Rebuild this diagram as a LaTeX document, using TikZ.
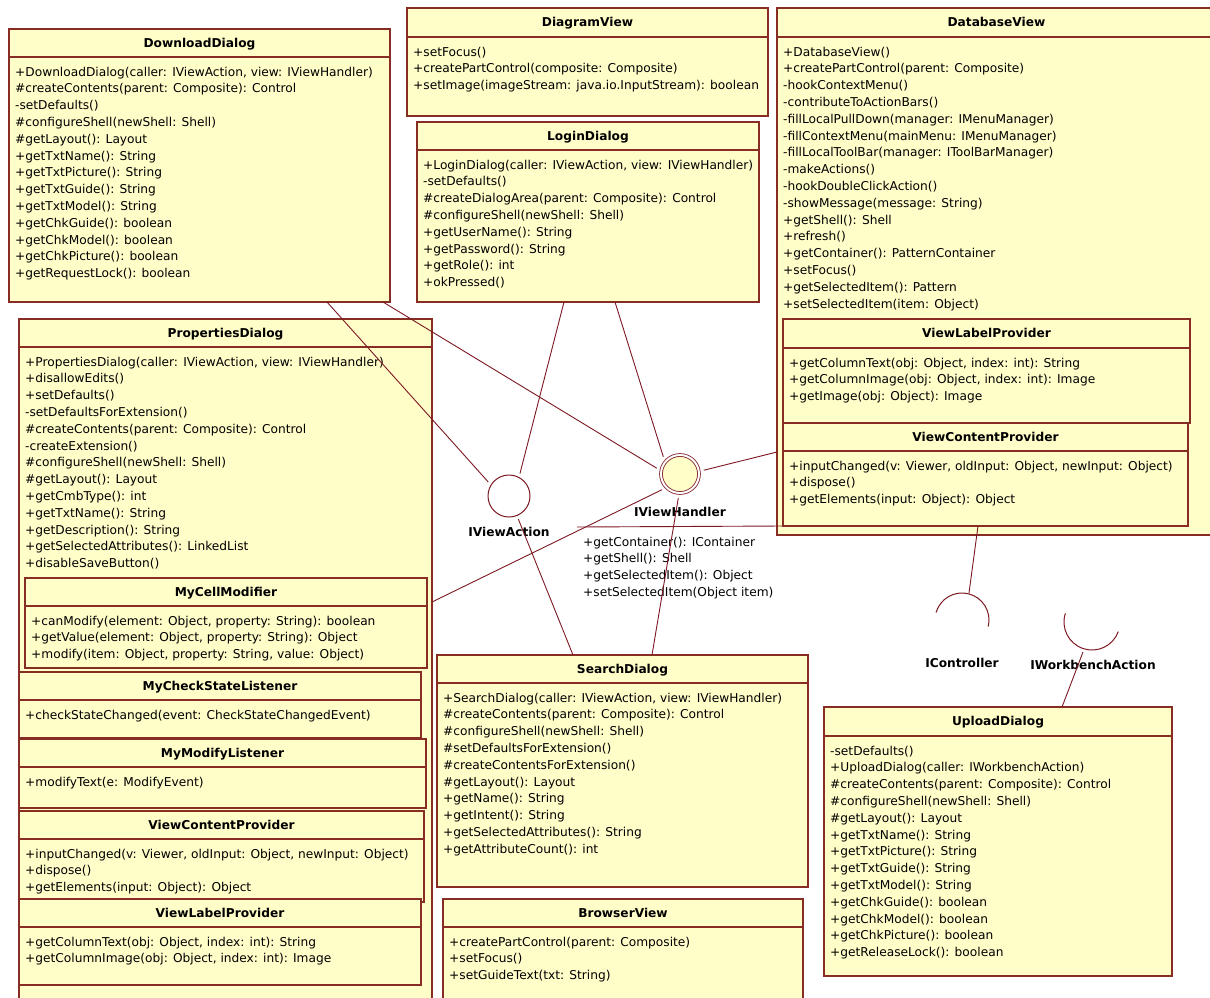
\documentclass[tikz,border=0pt]{standalone}
\usepackage{fontspec}
\setmainfont{DejaVu Sans}
\usetikzlibrary{calc}

\definecolor{classfill}{RGB}{255,253,200}
\definecolor{classedge}{RGB}{135,45,35}
\definecolor{linkcol}{RGB}{125,25,35}

\tikzset{
  classbox/.style={rectangle, draw=classedge, fill=classfill, line width=1.1pt, inner sep=0pt, outer sep=0pt},
  classtitle/.style={font=\bfseries\fontsize{12.2}{14}\selectfont, inner sep=0pt, text height=8.9pt, text depth=0pt},
  opslist/.style={font=\fontsize{12.2}{16.8}\selectfont, align=left, inner sep=0pt, anchor=north west},
  divider/.style={draw=classedge, line width=1.1pt},
  link/.style={draw=linkcol, line width=0.9pt},
  socket/.style={draw=linkcol, line width=1pt},
  ifacelabel/.style={font=\bfseries\fontsize{12.2}{14}\selectfont, inner sep=0pt, text height=8.9pt, text depth=0pt},
}

\newcommand{\nl}{\\\strut}
% #1 name, #2 left, #3 top, #4 right, #5 bottom, #6 divider, #7 title, #8 operations
\newcommand{\umlclass}[8]{%
  \node[classbox, anchor=north west, minimum width={#4-#2}, minimum height={#5-#3}] (#1) at (#2,-#3) {};
  \draw[divider] ($(#1.north west)+(0,#3-#6)$) -- ($(#1.north east)+(0,#3-#6)$);
  \node[classtitle] (#1-t) at ({(#2+#4)/2},{-(#3+#6)/2}) {#7};
  \node[opslist] (#1-m) at (#2+6,-#6-7.1) {\strut #8};
}

\begin{document}
\begin{tikzpicture}[x=1pt,y=1pt]
\useasboundingbox (0,0) rectangle (1210,-998);
\clip (0,0) rectangle (1210,-998);
\fill[white] (0,0) rectangle (1210,-998);

% dialogs and views along the top
\umlclass{dl}{9}{29}{390}{302}{57}{DownloadDialog}{%
+DownloadDialog(caller: IViewAction, view: IViewHandler)\nl
\#createContents(parent: Composite): Control\nl
-setDefaults()\nl
\#configureShell(newShell: Shell)\nl
\#getLayout(): Layout\nl
+getTxtName(): String\nl
+getTxtPicture(): String\nl
+getTxtGuide(): String\nl
+getTxtModel(): String\nl
+getChkGuide(): boolean\nl
+getChkModel(): boolean\nl
+getChkPicture(): boolean\nl
+getRequestLock(): boolean}

\umlclass{dv}{407}{8}{768}{116}{37}{DiagramView}{%
+setFocus()\nl
+createPartControl(composite: Composite)\nl
+setImage(imageStream: java.io.InputStream): boolean}

\umlclass{ld}{417}{122}{759}{302}{150}{LoginDialog}{%
+LoginDialog(caller: IViewAction, view: IViewHandler)\nl
-setDefaults()\nl
\#createDialogArea(parent: Composite): Control\nl
\#configureShell(newShell: Shell)\nl
+getUserName(): String\nl
+getPassword(): String\nl
+getRole(): int\nl
+okPressed()}

\umlclass{db}{777}{8}{1216}{535}{37}{DatabaseView}{%
+DatabaseView()\nl
+createPartControl(parent: Composite)\nl
-hookContextMenu()\nl
-contributeToActionBars()\nl
-fillLocalPullDown(manager: IMenuManager)\nl
-fillContextMenu(mainMenu: IMenuManager)\nl
-fillLocalToolBar(manager: IToolBarManager)\nl
-makeActions()\nl
-hookDoubleClickAction()\nl
-showMessage(message: String)\nl
+getShell(): Shell\nl
+refresh()\nl
+getContainer(): PatternContainer\nl
+setFocus()\nl
+getSelectedItem(): Pattern\nl
+setSelectedItem(item: Object)}

\umlclass{dbvl}{783}{319}{1190}{423}{348}{ViewLabelProvider}{%
+getColumnText(obj: Object, index: int): String\nl
+getColumnImage(obj: Object, index: int): Image\nl
+getImage(obj: Object): Image}

\umlclass{dbvc}{783}{423}{1188}{526}{451}{ViewContentProvider}{%
+inputChanged(v: Viewer, oldInput: Object, newInput: Object)\nl
+dispose()\nl
+getElements(input: Object): Object}

% properties dialog with its nested classes
\umlclass{pd}{19}{319}{432}{1010}{347}{PropertiesDialog}{%
+PropertiesDialog(caller: IViewAction, view: IViewHandler)\nl
+disallowEdits()\nl
+setDefaults()\nl
-setDefaultsForExtension()\nl
\#createContents(parent: Composite): Control\nl
-createExtension()\nl
\#configureShell(newShell: Shell)\nl
\#getLayout(): Layout\nl
+getCmbType(): int\nl
+getTxtName(): String\nl
+getDescription(): String\nl
+getSelectedAttributes(): LinkedList\nl
+disableSaveButton()}

\umlclass{mcm}{25}{578}{427}{668}{606}{MyCellModifier}{%
+canModify(element: Object, property: String): boolean\nl
+getValue(element: Object, property: String): Object\nl
+modify(item: Object, property: String, value: Object)}

\umlclass{mcsl}{19}{672}{421}{738}{700}{MyCheckStateListener}{%
+checkStateChanged(event: CheckStateChangedEvent)}

\umlclass{mml}{19}{739}{426}{808}{767}{MyModifyListener}{%
+modifyText(e: ModifyEvent)}

\umlclass{pvc}{19}{811}{424}{902}{839}{ViewContentProvider}{%
+inputChanged(v: Viewer, oldInput: Object, newInput: Object)\nl
+dispose()\nl
+getElements(input: Object): Object}

\umlclass{pvl}{19}{899}{421}{985}{927}{ViewLabelProvider}{%
+getColumnText(obj: Object, index: int): String\nl
+getColumnImage(obj: Object, index: int): Image}

% lower middle and right
\umlclass{sd}{437}{655}{808}{887}{683}{SearchDialog}{%
+SearchDialog(caller: IViewAction, view: IViewHandler)\nl
\#createContents(parent: Composite): Control\nl
\#configureShell(newShell: Shell)\nl
\#setDefaultsForExtension()\nl
\#createContentsForExtension()\nl
\#getLayout(): Layout\nl
+getName(): String\nl
+getIntent(): String\nl
+getSelectedAttributes(): String\nl
+getAttributeCount(): int}

\umlclass{bv}{443}{899}{803}{1010}{927}{BrowserView}{%
+createPartControl(parent: Composite)\nl
+setFocus()\nl
+setGuideText(txt: String)}

\umlclass{ud}{824}{707}{1172}{976}{736}{UploadDialog}{%
-setDefaults()\nl
+UploadDialog(caller: IWorkbenchAction)\nl
\#createContents(parent: Composite): Control\nl
\#configureShell(newShell: Shell)\nl
\#getLayout(): Layout\nl
+getTxtName(): String\nl
+getTxtPicture(): String\nl
+getTxtGuide(): String\nl
+getTxtModel(): String\nl
+getChkGuide(): boolean\nl
+getChkModel(): boolean\nl
+getChkPicture(): boolean\nl
+getReleaseLock(): boolean}

% provided interfaces (lollipops)
\node[circle, draw=linkcol, line width=1pt, fill=white, minimum size=42pt, inner sep=0pt, outer sep=4pt] (iva) at (509,-496) {};
\node[ifacelabel] (iva-l) at (509,-532) {IViewAction};

\node[circle, draw=linkcol, line width=0.8pt, double=white, double distance=2pt, fill=classfill, minimum size=38pt, inner sep=0pt, outer sep=5pt] (ivh) at (680,-474) {};
\node[ifacelabel] (ivh-l) at (680,-512) {IViewHandler};

% operations of IViewHandler
\coordinate (ivhsep) at (577,-527);
\draw[link] (ivhsep) -- (dbvc.south west);
\node[opslist] (ivhops) at (583,-534.1) {\strut +getContainer(): IContainer\nl
+getShell(): Shell\nl
+getSelectedItem(): Object\nl
+setSelectedItem(Object item)};

% required interfaces (sockets)
\coordinate (ictl) at (962,-620);
\coordinate (iwa) at (1092,-622);
\coordinate (ictl-top) at (969,-593);
\coordinate (iwa-bot) at (1083,-652);
\draw[socket] ($(ictl)+(-14:27)$) arc[start angle=-14, end angle=164, radius=27];
\draw[socket] ($(iwa)+(162:28)$) arc[start angle=162, end angle=340, radius=28];
\node[ifacelabel] (ictl-l) at (962,-663) {IController};
\node[ifacelabel] (iwa-l) at (1093,-665) {IWorkbenchAction};

% connectors
\draw[link] ($(dl.south west)+(318,0)$) -- (iva.146);
\draw[link] ($(dl.south west)+(374,0)$) -- (ivh.166);
\draw[link] ($(ld.south west)+(147,0)$) -- (iva.64);
\draw[link] ($(ld.south west)+(198,0)$) -- (ivh.134);
\draw[link] ($(db.north west)+(0,-444)$) -- (ivh.9);
\draw[link] ($(pd.north east)+(0,-283)$) -- (ivh.221);
\draw[link] (iva.-68) -- ($(sd.north west)+(136,0)$);
\draw[link] (ivh.-94) -- ($(sd.north west)+(215,0)$);
\draw[link] ($(dbvc.south west)+(195,0)$) -- (ictl-top);
\draw[link] (iwa-bot) -- ($(ud.north west)+(238,0)$);
\end{tikzpicture}
\end{document}
